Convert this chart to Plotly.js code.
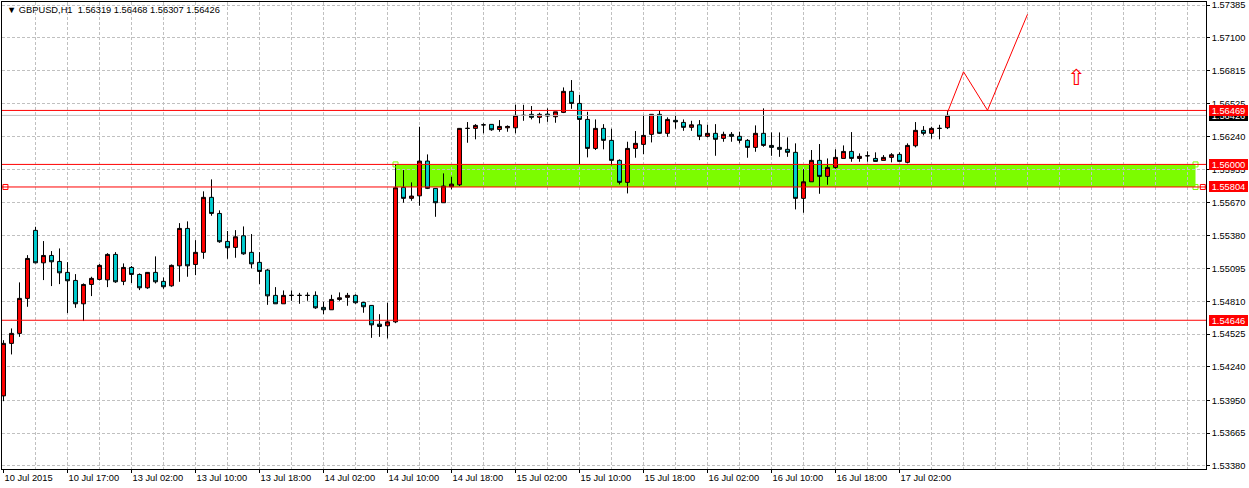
<!DOCTYPE html>
<html><head><meta charset="utf-8">
<script src="https://cdn.plot.ly/plotly-3.0.1.min.js"></script>
<style>html,body{margin:0;padding:0;background:#fff;overflow:hidden}#chart{width:1249px;height:488px}</style>
</head><body><div id="chart"></div>
<script>
// ---- data (GBPUSD H1, 10 Jul 2015 09:00 .. 17 Jul 2015 08:00) ----
const openP = [1.53989,1.54445,1.54532,1.54836,1.55427,1.55145,1.55209,1.55157,1.55062,1.54992,
1.54789,1.54957,1.55001,1.54997,1.55218,1.54984,1.55105,1.55044,1.54928,1.55062,
1.54984,1.54945,1.55119,1.55444,1.55131,1.55236,1.55714,1.55574,1.55331,1.55279,
1.55380,1.55236,1.55149,1.55082,1.54862,1.54789,1.54862,1.54862,1.54862,1.54862,
1.54758,1.54737,1.54827,1.54845,1.54862,1.54801,1.54775,1.54612,1.54598,1.54632,
1.55800,1.55705,1.55727,1.56029,1.55792,1.55667,1.55806,1.55823,1.56313,1.56313,
1.56344,1.56348,1.56304,1.56318,1.56318,1.56426,1.56435,1.56409,1.56437,1.56414,
1.56452,1.56635,1.56530,1.56391,1.56139,1.56313,1.56209,1.56035,1.55844,1.56139,
1.56174,1.56261,1.56435,1.56270,1.56383,1.56365,1.56322,1.56344,1.56244,1.56270,
1.56226,1.56261,1.56244,1.56209,1.56148,1.56270,1.56165,1.56148,1.56131,1.56105,
1.55705,1.55849,1.56035,1.55896,1.55974,1.56052,1.56113,1.56052,1.56075,1.56052,
1.56035,1.56061,1.56087,1.56018,1.56162,1.56296,1.56270,1.56313,1.56319];
const highP = [1.54473,1.54575,1.54975,1.55212,1.55458,1.55334,1.55247,1.55270,1.55151,1.55047,
1.54966,1.55024,1.55134,1.55229,1.55238,1.55140,1.55117,1.55053,1.55065,1.55201,
1.55018,1.55131,1.55490,1.55505,1.55342,1.55766,1.55870,1.55601,1.55421,1.55429,
1.55461,1.55395,1.55238,1.55090,1.54934,1.54905,1.54905,1.54884,1.54888,1.54897,
1.54806,1.54867,1.54888,1.54884,1.54871,1.54806,1.54777,1.54699,1.54798,1.56003,
1.55951,1.55844,1.56327,1.56087,1.55795,1.55922,1.55893,1.56316,1.56368,1.56350,
1.56357,1.56350,1.56385,1.56339,1.56518,1.56518,1.56507,1.56449,1.56487,1.56457,
1.56669,1.56733,1.56603,1.56457,1.56391,1.56350,1.56310,1.56044,1.56197,1.56290,
1.56431,1.56437,1.56472,1.56409,1.56426,1.56391,1.56379,1.56385,1.56344,1.56350,
1.56284,1.56281,1.56284,1.56220,1.56339,1.56487,1.56278,1.56278,1.56235,1.56183,
1.55959,1.56125,1.56177,1.56052,1.56131,1.56165,1.56281,1.56096,1.56113,1.56105,
1.56081,1.56098,1.56105,1.56183,1.56368,1.56333,1.56327,1.56344,1.56468];
const lowP = [1.53943,1.54349,1.54502,1.54763,1.55140,1.54995,1.54943,1.54960,1.54708,1.54754,
1.54639,1.54856,1.54992,1.54934,1.54971,1.54951,1.54969,1.54908,1.54919,1.54966,
1.54919,1.54937,1.54980,1.55024,1.55038,1.55180,1.55554,1.55319,1.55180,1.55189,
1.55215,1.55096,1.54960,1.54780,1.54789,1.54789,1.54815,1.54789,1.54815,1.54745,
1.54699,1.54737,1.54815,1.54772,1.54789,1.54711,1.54493,1.54502,1.54488,1.54621,
1.55667,1.55684,1.55641,1.55786,1.55545,1.55667,1.55783,1.55812,1.56188,1.56218,
1.56270,1.56292,1.56284,1.56284,1.56270,1.56379,1.56391,1.56357,1.56370,1.56362,
1.56446,1.56483,1.56003,1.56061,1.56125,1.56131,1.55992,1.55826,1.55748,1.56058,
1.56090,1.56191,1.56264,1.56240,1.56310,1.56292,1.56292,1.56211,1.56235,1.56075,
1.56197,1.56197,1.56183,1.56058,1.56110,1.56153,1.56075,1.56066,1.56066,1.55609,
1.55580,1.55849,1.55745,1.55823,1.55962,1.56052,1.56023,1.56023,1.56023,1.56026,
1.56035,1.56018,1.56026,1.56009,1.56148,1.56252,1.56223,1.56218,1.56307];
const closeP = [1.54445,1.54532,1.54836,1.55183,1.55145,1.55209,1.55154,1.55058,1.54989,1.54789,
1.54957,1.55010,1.55123,1.55218,1.54980,1.55105,1.55044,1.54928,1.55062,1.54980,
1.54937,1.55123,1.55444,1.55119,1.55236,1.55714,1.55574,1.55328,1.55276,1.55371,
1.55223,1.55136,1.55070,1.54858,1.54789,1.54862,1.54862,1.54862,1.54862,1.54754,
1.54737,1.54827,1.54841,1.54862,1.54798,1.54763,1.54606,1.54592,1.54632,1.55797,
1.55705,1.55725,1.56029,1.55792,1.55667,1.55812,1.55829,1.56313,1.56313,1.56339,
1.56344,1.56301,1.56330,1.56330,1.56426,1.56426,1.56409,1.56435,1.56420,1.56457,
1.56635,1.56530,1.56391,1.56139,1.56313,1.56209,1.56035,1.55844,1.56139,1.56183,
1.56252,1.56435,1.56270,1.56391,1.56370,1.56322,1.56344,1.56244,1.56270,1.56218,
1.56261,1.56244,1.56209,1.56148,1.56270,1.56165,1.56148,1.56131,1.56105,1.55705,
1.55849,1.56035,1.55896,1.55974,1.56061,1.56113,1.56052,1.56070,1.56075,1.56026,
1.56061,1.56084,1.56026,1.56165,1.56296,1.56270,1.56313,1.56313,1.56426];

const xTickIdx = [0,8,16,24,32,40,48,56,64,72,80,88,96,104,112];
const xTickLabels = ["10 Jul 2015","10 Jul 17:00","13 Jul 02:00","13 Jul 10:00","13 Jul 18:00",
"14 Jul 02:00","14 Jul 10:00","14 Jul 18:00","15 Jul 02:00","15 Jul 10:00","15 Jul 18:00",
"16 Jul 02:00","16 Jul 10:00","16 Jul 18:00","17 Jul 02:00"];
const yTickVals = [1.57385,1.57100,1.56815,1.56525,1.56240,1.55955,1.55670,1.55380,1.55095,
1.54810,1.54525,1.54240,1.53950,1.53665,1.53380];

const levelLines = [1.56469,1.56000,1.55804,1.54646];   // red horizontal lines
const bidLevel = 1.56426;                               // bid line
const zoneX = [49,149];                                 // rectangle (bar index)
const zoneY = [1.55804,1.56000];                        // rectangle (price)
const projX = [118,120,123,128];                        // drawn projection
const projY = [1.56452,1.56805,1.56470,1.57304];
const arrowX = [134];
const arrowY = [1.56759];
const titleText = "\u25BC GBPUSD,H1\u00a0\u00a01.56319 1.56468 1.56307 1.56426";

// ---- chart ----
const FONT = "'Liberation Sans', Arial, sans-serif";
const FS = 9.3;
const xIdx = openP.map((_, i) => i);
const xRange = [-0.1875, 150.3125];
const yRange = [1.533537, 1.574111];
const gridIdx = [];
for (let g = 4; g < xRange[1]; g += 4) gridIdx.push(g);

const traces = [
  {
    type: 'candlestick', x: xIdx, open: openP, high: highP, low: lowP, close: closeP,
    increasing: {fillcolor: '#ff0000', line: {color: '#000000', width: 1}},
    decreasing: {fillcolor: '#00ced1', line: {color: '#000000', width: 1}},
    whiskerwidth: 0, hoverinfo: 'skip', showlegend: false
  },
  {
    type: 'scatter', mode: 'lines', x: projX, y: projY,
    line: {color: '#ff0000', width: 1}, hoverinfo: 'skip', showlegend: false
  },
  {
    type: 'scatter', mode: 'markers',
    x: [zoneX[0], zoneX[1], zoneX[1]], y: [zoneY[1], zoneY[1], zoneY[0]],
    marker: {symbol: 'square-open', size: 5, color: '#7cfc00', line: {width: 1, color: '#7cfc00'}},
    hoverinfo: 'skip', showlegend: false
  },
  {
    type: 'scatter', mode: 'markers',
    x: [xRange[0] + 0.43, xRange[1] - 0.4], y: [levelLines[2], levelLines[2]],
    marker: {symbol: 'square-open', size: 5, color: '#ff0000', line: {width: 1, color: '#ff0000'}},
    hoverinfo: 'skip', showlegend: false, cliponaxis: false
  }
];

const shapes = [
  {type: 'rect', xref: 'x', yref: 'y', x0: zoneX[0], x1: zoneX[1], y0: zoneY[0], y1: zoneY[1],
   fillcolor: '#7cfc00', line: {width: 0}, layer: 'below'},
  {type: 'line', xref: 'paper', yref: 'y', x0: 0, x1: 1, y0: bidLevel, y1: bidLevel,
   line: {color: '#c0c0c0', width: 1}, layer: 'above'}
];
levelLines.forEach(v => shapes.push({type: 'line', xref: 'paper', yref: 'y', x0: 0, x1: 1, y0: v, y1: v,
  line: {color: '#ff0000', width: 1}, layer: 'above'}));

const priceBox = (v, bg) => ({
  x: 1, xref: 'paper', xanchor: 'left', xshift: 3, y: v, yref: 'y', yanchor: 'middle',
  text: v.toFixed(5), showarrow: false, bgcolor: bg, borderwidth: 0, borderpad: 1,
  width: 37, height: 9, align: 'center', font: {family: FONT, size: FS, color: '#ffffff'}
});
const annotations = [
  {x: 0, xref: 'paper', xanchor: 'left', xshift: 3, y: 0.9818, yref: 'paper', yanchor: 'middle',
   text: titleText, showarrow: false, font: {family: FONT, size: FS, color: '#000'}},
  {x: arrowX[0], y: arrowY[0], xref: 'x', yref: 'y', text: '\u21E7', showarrow: false,
   font: {family: 'DejaVu Sans', size: 22, color: '#ff0000'}},
  priceBox(bidLevel, '#000000')
];
levelLines.forEach(v => annotations.push(priceBox(v, '#ff0000')));

const layout = {
  width: 1249, height: 488,
  margin: {l: 2, r: 43, t: 2, b: 19, pad: 0},
  paper_bgcolor: '#ffffff', plot_bgcolor: '#ffffff',
  showlegend: false, hovermode: false, dragmode: false,
  font: {family: FONT, size: FS, color: '#000'},
  xaxis: {
    type: 'linear', range: xRange, fixedrange: true, rangeslider: {visible: false},
    showline: true, linecolor: '#000', linewidth: 1, mirror: true,
    zeroline: false, showgrid: false,
    tickmode: 'array', tickvals: xTickIdx, ticktext: xTickLabels,
    ticks: 'outside', ticklen: 3, tickcolor: '#000', tickwidth: 1,
    tickangle: 0, ticklabelposition: 'outside right', ticklabeloverflow: 'allow',
    tickfont: {family: FONT, size: FS, color: '#000'},
    minor: {tickmode: 'array', tickvals: gridIdx, showgrid: true, gridcolor: '#c0c0c0',
            griddash: '3px,2px', gridwidth: 1, ticks: ''}
  },
  yaxis: {
    side: 'right', range: yRange, fixedrange: true,
    showline: true, linecolor: '#000', linewidth: 1, mirror: true, zeroline: false,
    tickmode: 'array', tickvals: yTickVals, ticktext: yTickVals.map(v => v.toFixed(5)),
    ticks: 'outside', ticklen: 3, tickcolor: '#000', tickwidth: 1, ticklabeloverflow: 'allow',
    showgrid: true, gridcolor: '#c0c0c0', griddash: '3px,2px', gridwidth: 1,
    tickfont: {family: FONT, size: FS, color: '#000'}
  },
  shapes: shapes,
  annotations: annotations
};

Plotly.newPlot('chart', traces, layout, {staticPlot: true, displayModeBar: false});
</script>
</body></html>
